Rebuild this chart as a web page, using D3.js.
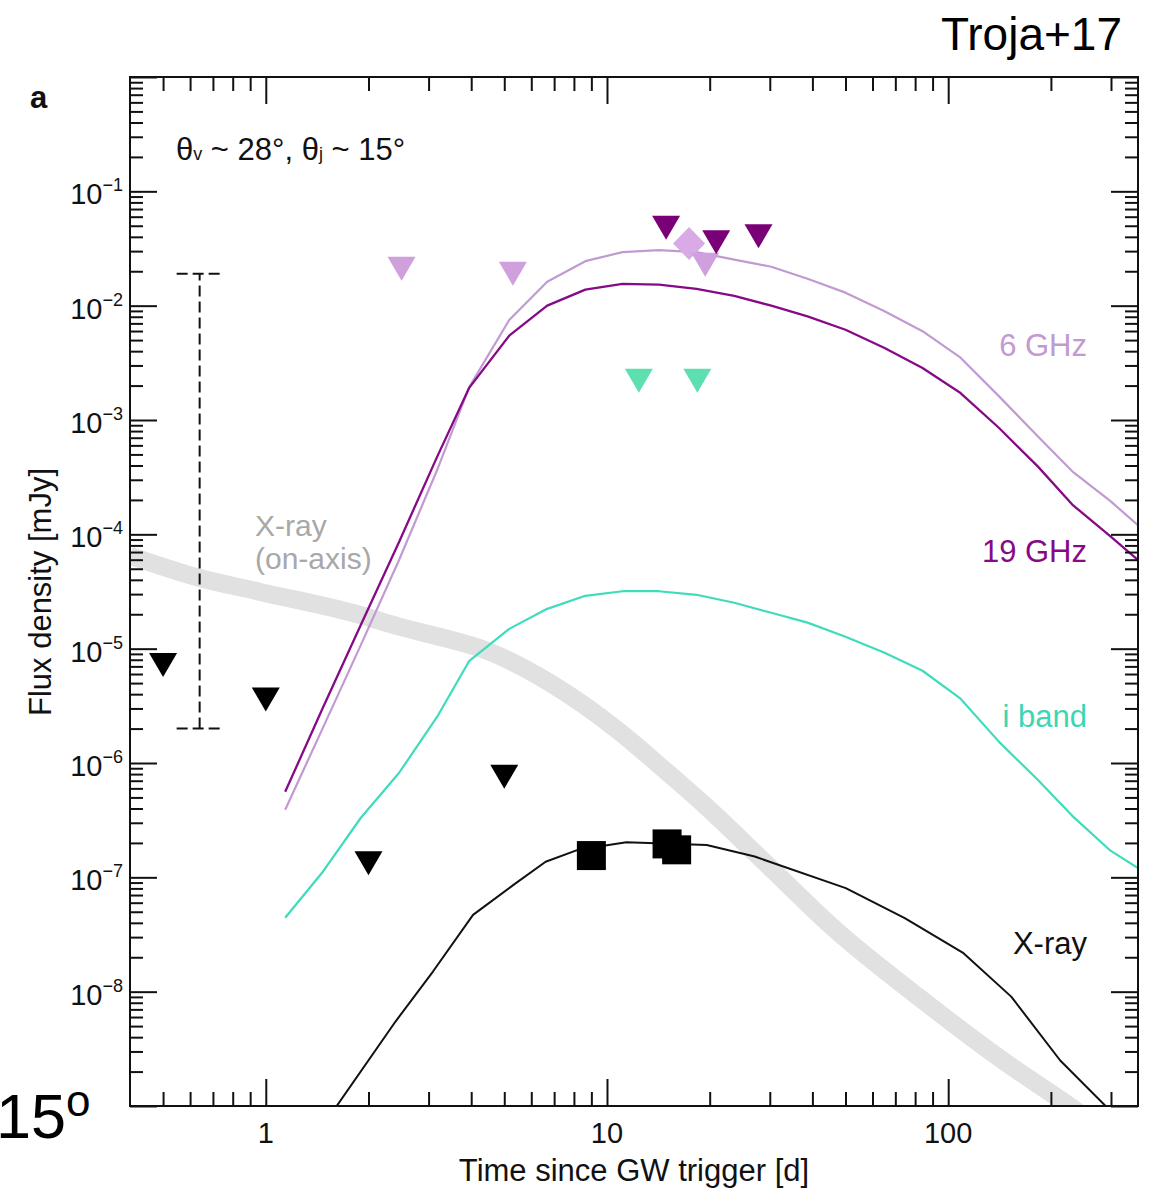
<!DOCTYPE html>
<html>
<head>
<meta charset="utf-8">
<script src="https://cdn.jsdelivr.net/npm/d3@7"></script>
<style>
  body { margin: 0; background: #fff; }
  svg { display: block; font-family: "Liberation Sans", Arial, Helvetica, sans-serif; }
</style>
</head>
<body>
<svg id="chart" width="1149" height="1188"></svg>
<script>
// ---- model light curves (off-axis structured jet) ----
const modelTimes = [1.14, 1.47, 1.90, 2.46, 3.18, 3.95, 5.17, 6.68, 8.64, 11.1, 14.2, 18.3,
                    23.6, 30.3, 38.7, 50.0, 65.1, 84.1, 108.7, 141, 183, 231, 299, 359];
const flux6GHz  = [3.90e-7, 2.03e-6, 1.08e-5, 6.0e-5, 3.67e-4, 1.95e-3, 7.5e-3, 1.62e-2,
                   2.45e-2, 2.94e-2, 3.06e-2, 2.94e-2, 2.53e-2, 2.19e-2, 1.72e-2, 1.30e-2,
                   8.95e-3, 5.98e-3, 3.51e-3, 1.61e-3, 7.21e-4, 3.56e-4, 1.95e-4, 1.21e-4];
const flux19GHz = [5.60e-7, 3.04e-6, 1.62e-5, 8.63e-5, 4.78e-4, 1.92e-3, 5.46e-3, 1.00e-2,
                   1.38e-2, 1.55e-2, 1.53e-2, 1.40e-2, 1.22e-2, 1.00e-2, 8.06e-3, 6.16e-3,
                   4.26e-3, 2.85e-3, 1.72e-3, 8.51e-4, 3.93e-4, 1.82e-4, 9.6e-5, 6.0e-5];
const fluxIBand = [4.43e-8, 1.12e-7, 3.32e-7, 8.22e-7, 2.54e-6, 7.83e-6, 1.49e-5, 2.23e-5,
                   2.90e-5, 3.18e-5, 3.18e-5, 2.96e-5, 2.52e-5, 2.06e-5, 1.69e-5, 1.27e-5,
                   9.2e-6, 6.41e-6, 3.65e-6, 1.53e-6, 7.13e-7, 3.45e-7, 1.71e-7, 1.21e-7];
const xrayTimes = [1.47, 2.40, 3.09, 4.05, 5.32, 6.61, 8.21, 11.4, 19.6, 27.1, 50.1, 74.6,
                   110.9, 153, 213, 300, 359];
const fluxXray  = [6.7e-10, 5.48e-9, 1.50e-8, 4.70e-8, 8.59e-8, 1.37e-7, 1.74e-7, 2.03e-7,
                   1.92e-7, 1.52e-7, 8.04e-8, 4.39e-8, 2.17e-8, 9.05e-9, 2.50e-9, 8.97e-10, 4.6e-10];
// on-axis X-ray afterglow (broad grey band)
const onAxisTimes = [0.4, 0.637, 0.956, 1.88, 2.46, 3.22, 4.36, 6.87, 10.8, 14.5, 19.7, 29.1,
                     46.7, 81.8, 148, 227, 297];
const fluxOnAxis  = [6.5e-5, 4.17e-5, 3.15e-5, 1.98e-5, 1.56e-5, 1.27e-5, 9.8e-6, 4.93e-6,
                     1.91e-6, 9.08e-7, 4.06e-7, 1.34e-7, 3.48e-8, 9.0e-9, 2.38e-9, 1.0e-9, 5.6e-10];

// ---- observations ----
const xrayLimitTimes = [0.5, 1.0, 2.0, 5.0];
const xrayLimitFlux  = [7.2e-6, 3.6e-6, 1.33e-7, 7.6e-7];
const xrayDetTimes   = [9.0, 15.0, 16.0];
const xrayDetFlux    = [1.55e-7, 1.96e-7, 1.74e-7];
const radio6LimitTimes = [2.5, 5.3, 19.4];
const radio6LimitFlux  = [2.1e-2, 1.9e-2, 2.28e-2];
const radio6DetTimes   = [17.4];
const radio6DetFlux    = [3.5e-2];
const radio19LimitTimes = [14.9, 20.9, 27.8];
const radio19LimitFlux  = [4.8e-2, 3.58e-2, 4.04e-2];
const iLimitTimes = [12.4, 18.4];
const iLimitFlux  = [2.2e-3, 2.2e-3];
// range bar (dashed)
const rangeTime = 0.64;
const rangeFlux = [2.0e-6, 1.9e-2];

// ---- axes ----
const xDomain = [0.4, 360];
const yDomain = [1e-9, 1];
const xMajorTicks = [1, 10, 100];
const xTickLabels = ["1", "10", "100"];
const xMinorTicks = [0.5, 0.6, 0.7, 0.8, 0.9, 2, 3, 4, 5, 6, 7, 8, 9,
                     20, 30, 40, 50, 60, 70, 80, 90, 200, 300];
const yLabelExponents = [-1, -2, -3, -4, -5, -6, -7, -8];

const colors = {
  c6: "#c29ad2", c6mark: "#cfa0dc", c6diamond: "#d9aae6",
  c19: "#860a86", c19mark: "#7a0078",
  ib: "#3fdcbc", ibmark: "#5ddfb0",
  xr: "#111111", onAxis: "#e1e1e1", onAxisText: "#a8a8a8"
};

const svg = d3.select("#chart");
const plot = { left: 130, right: 1138, top: 77, bottom: 1106 };
const x = d3.scaleLog().domain(xDomain).range([plot.left, plot.right]);
const y = d3.scaleLog().domain(yDomain).range([plot.bottom, plot.top]);

svg.append("defs").append("clipPath").attr("id", "plotClip")
  .append("rect")
  .attr("x", plot.left).attr("y", plot.top)
  .attr("width", plot.right - plot.left).attr("height", plot.bottom - plot.top);

const zip = (ts, fs) => ts.map((t, i) => [t, fs[i]]);
const lineLinear = d3.line().x(d => x(d[0])).y(d => y(d[1]));
const lineSmooth = d3.line().x(d => x(d[0])).y(d => y(d[1])).curve(d3.curveMonotoneX);

const g = svg.append("g").attr("clip-path", "url(#plotClip)");

// on-axis band
g.append("path").datum(zip(onAxisTimes, fluxOnAxis))
  .attr("d", lineSmooth).attr("fill", "none")
  .attr("stroke", colors.onAxis).attr("stroke-width", 18);

// model curves
[[flux6GHz, colors.c6, 2.2], [flux19GHz, colors.c19, 2.3], [fluxIBand, colors.ib, 2.2]].forEach(([f, c, w]) => {
  g.append("path").datum(zip(modelTimes, f))
    .attr("d", lineLinear).attr("fill", "none")
    .attr("stroke", c).attr("stroke-width", w).attr("stroke-linejoin", "round");
});
g.append("path").datum(zip(xrayTimes, fluxXray))
  .attr("d", lineLinear).attr("fill", "none")
  .attr("stroke", colors.xr).attr("stroke-width", 2).attr("stroke-linejoin", "round");

// dashed range bar
const rx = x(rangeTime);
const rb = svg.append("g").attr("stroke", "#111").attr("stroke-width", 2).attr("stroke-dasharray", "11,5");
rb.append("line").attr("x1", rx).attr("x2", rx).attr("y1", y(rangeFlux[0])).attr("y2", y(rangeFlux[1]));
rangeFlux.forEach(f => rb.append("line").attr("x1", rx - 23).attr("x2", rx + 23).attr("y1", y(f)).attr("y2", y(f)));

// markers
const triDown = "M-14,-12L14,-12L0,12Z";
const diamond = "M0,-16.5L16,0L0,16.5L-16,0Z";
function marks(ts, fs, path, fill) {
  svg.append("g").selectAll("path").data(zip(ts, fs)).join("path")
    .attr("d", path).attr("fill", fill)
    .attr("transform", d => `translate(${x(d[0])},${y(d[1])})`);
}
marks(xrayLimitTimes, xrayLimitFlux, triDown, "#000");
svg.append("g").selectAll("rect").data(zip(xrayDetTimes, xrayDetFlux)).join("rect")
  .attr("x", d => x(d[0]) - 14.5).attr("y", d => y(d[1]) - 14.5)
  .attr("width", 29).attr("height", 29).attr("fill", "#000");
marks(radio6DetTimes, radio6DetFlux, diamond, colors.c6diamond);
marks(radio6LimitTimes, radio6LimitFlux, triDown, colors.c6mark);
marks(radio19LimitTimes, radio19LimitFlux, triDown, colors.c19mark);
marks(iLimitTimes, iLimitFlux, triDown, colors.ibmark);

// frame and inward ticks
function tickAxis(axisFn, scale, values, size, transform) {
  const a = axisFn(scale).tickValues(values).tickSize(size).tickSizeOuter(0).tickFormat("");
  const sel = svg.append("g").attr("transform", transform).call(a);
  sel.select(".domain").remove();
  sel.selectAll(".tick line").attr("stroke", "#111").attr("stroke-width", 2);
}
const yMajor = d3.range(-9, 1).map(e => Math.pow(10, e));
const yMinor = [];
d3.range(-9, 0).forEach(e => { for (let k = 2; k <= 9; k++) yMinor.push(k * Math.pow(10, e)); });

tickAxis(d3.axisBottom, x, xMajorTicks, -27, `translate(0,${plot.bottom})`);
tickAxis(d3.axisBottom, x, xMinorTicks, -14, `translate(0,${plot.bottom})`);
tickAxis(d3.axisTop, x, xMajorTicks, -27, `translate(0,${plot.top})`);
tickAxis(d3.axisTop, x, xMinorTicks, -14, `translate(0,${plot.top})`);
tickAxis(d3.axisLeft, y, yMajor, -27, `translate(${plot.left},0)`);
tickAxis(d3.axisLeft, y, yMinor, -13, `translate(${plot.left},0)`);
tickAxis(d3.axisRight, y, yMajor, -27, `translate(${plot.right},0)`);
tickAxis(d3.axisRight, y, yMinor, -13, `translate(${plot.right},0)`);

svg.append("rect")
  .attr("x", plot.left).attr("y", plot.top)
  .attr("width", plot.right - plot.left).attr("height", plot.bottom - plot.top)
  .attr("fill", "none").attr("stroke", "#111").attr("stroke-width", 2);

// tick labels
svg.append("g").selectAll("text").data(xMajorTicks).join("text")
  .attr("x", d => x(d)).attr("y", 1143)
  .attr("text-anchor", "middle").attr("font-size", 29).attr("fill", "#111")
  .text((d, i) => xTickLabels[i]);

const yl = svg.append("g").selectAll("text").data(yLabelExponents).join("text")
  .attr("x", 123).attr("y", d => y(Math.pow(10, d)) + 13)
  .attr("text-anchor", "end").attr("fill", "#111");
yl.append("tspan").attr("font-size", 29).text("10");
yl.append("tspan").attr("font-size", 18).attr("dy", -13).text(d => "\u2212" + Math.abs(d));

// axis titles
svg.append("text").attr("x", (plot.left + plot.right) / 2).attr("y", 1181)
  .attr("text-anchor", "middle").attr("font-size", 31).attr("fill", "#111")
  .text("Time since GW trigger [d]");
svg.append("text").attr("transform", "translate(51,592) rotate(-90)")
  .attr("text-anchor", "middle").attr("font-size", 31).attr("fill", "#111")
  .text("Flux density [mJy]");

// curve labels
const lbl = (txt, yy, c) => svg.append("text").attr("x", 1087).attr("y", yy)
  .attr("text-anchor", "end").attr("font-size", 31).attr("fill", c).text(txt);
lbl("6 GHz", 356, colors.c6);
lbl("19 GHz", 562, colors.c19);
lbl("i band", 727, "#3dd6b3");
lbl("X-ray", 954, "#111");
svg.append("text").attr("x", 255).attr("y", 536).attr("font-size", 30)
  .attr("fill", colors.onAxisText).text("X-ray");
svg.append("text").attr("x", 255).attr("y", 569).attr("font-size", 30)
  .attr("fill", colors.onAxisText).text("(on-axis)");

// viewing / jet angle annotation
const ang = svg.append("text").attr("x", 176).attr("y", 160).attr("font-size", 31).attr("fill", "#111");
ang.append("tspan").text("\u03B8");
ang.append("tspan").attr("font-size", 18).text("v");
ang.append("tspan").text(" ~ 28");
ang.append("tspan").text("\u00B0");
ang.append("tspan").text(", \u03B8");
ang.append("tspan").attr("font-size", 18).text("j");
ang.append("tspan").text(" ~ 15");
ang.append("tspan").text("\u00B0");

// panel letter, reference tag, corner text
svg.append("text").attr("x", 30).attr("y", 108).attr("font-size", 31)
  .attr("font-weight", "bold").attr("fill", "#111").text("a");
svg.append("text").attr("x", 1122).attr("y", 50).attr("text-anchor", "end")
  .attr("font-size", 46).attr("fill", "#000").text("Troja+17");
const corner = svg.append("text").attr("x", -4).attr("y", 1138).attr("font-size", 63).attr("fill", "#000");
corner.append("tspan").text("15");
corner.append("tspan").attr("font-size", 44).attr("dy", -22).text("o");
</script>
</body>
</html>
